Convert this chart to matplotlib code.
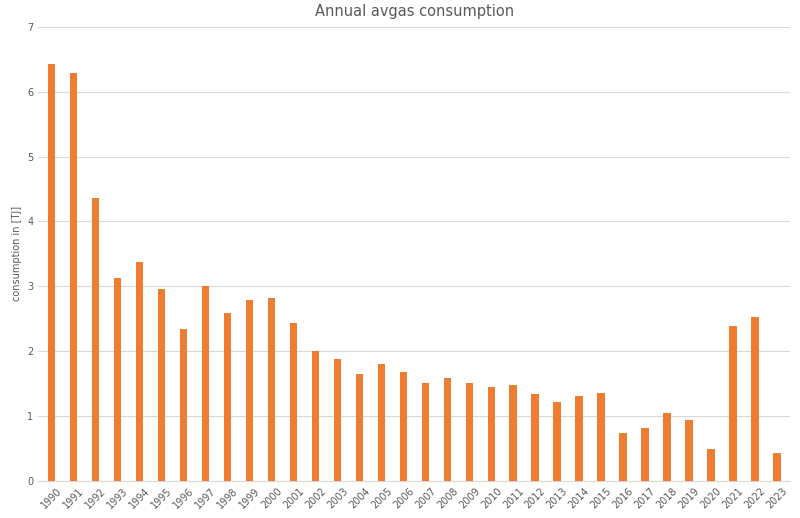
import matplotlib.pyplot as plt

years = [str(y) for y in range(1990, 2024)]
values = [6.43, 6.29, 4.36, 3.13, 3.37, 2.96, 2.34, 3.00, 2.59, 2.79, 2.82, 2.43,
          2.00, 1.88, 1.65, 1.80, 1.68, 1.51, 1.59, 1.51, 1.45, 1.48, 1.33, 1.22,
          1.31, 1.36, 0.74, 0.82, 1.05, 0.94, 0.49, 2.39, 2.53, 0.42]

fig = plt.figure(figsize=(8, 5.18), dpi=100)
ax = fig.add_axes([0.048, 0.072, 0.94, 0.876])
ax.bar(range(len(years)), values, width=0.35, color='#ED7D31', zorder=3)
ax.set_xlim(-0.6, len(years) - 0.4)
ax.set_ylim(0, 7)
ax.set_yticks(range(8))
ax.grid(axis='y', color='#D9D9D9', linewidth=0.8, zorder=0)
ax.set_xticks(range(len(years)))
ax.set_xticklabels(years, rotation=45, fontsize=7, color='#595959')
ax.tick_params(axis='y', labelsize=7, colors='#595959', length=0)
ax.tick_params(axis='x', length=0)
for s in ['top', 'right', 'left']:
    ax.spines[s].set_visible(False)
ax.spines['bottom'].set_color('#D9D9D9')
ax.set_ylabel('consumption in [TJ]', fontsize=7, color='#595959')
ax.set_title('Annual avgas consumption', fontsize=10.5, color='#595959', pad=8)
fig.savefig('out.png')
